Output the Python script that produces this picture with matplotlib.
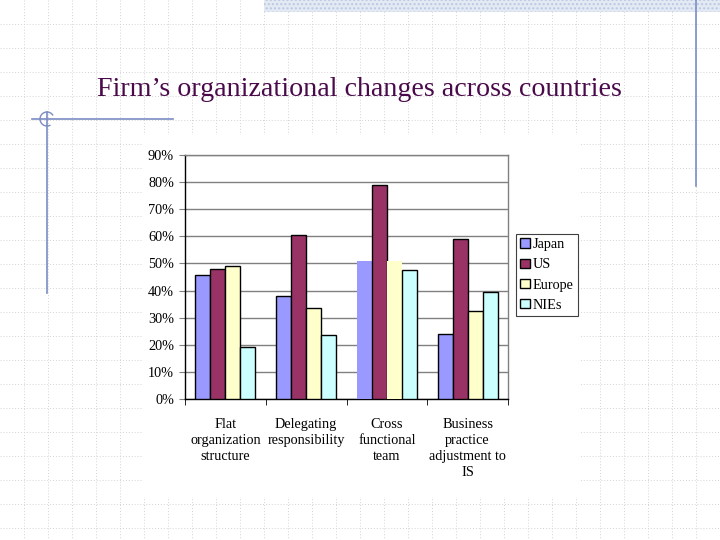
import matplotlib
matplotlib.use('Agg')
import matplotlib.pyplot as plt
from matplotlib.patches import Rectangle, Arc
import numpy as np

plt.rcParams['font.family'] = ['Liberation Serif', 'DejaVu Serif']

# data
categories = ['Flat\norganization\nstructure', 'Delegating\nresponsibility',
              'Cross\nfunctional\nteam', 'Business\npractice\nadjustment to\nIS']
series = ['Japan', 'US', 'Europe', 'NIEs']
japan = [0.456, 0.380, 0.509, 0.239]
us = [0.479, 0.604, 0.789, 0.589]
europe = [0.490, 0.335, 0.509, 0.324]
nies = [0.191, 0.236, 0.475, 0.394]
colors = ['#9999ff', '#993366', '#ffffcc', '#ccffff']

W, H = 720, 540
fig = plt.figure(figsize=(7.2, 5.4), dpi=100)

# slide background: dotted grid + decorations
bg = fig.add_axes([0, 0, 1, 1])
bg.set_xlim(0, W)
bg.set_ylim(H, 0)
bg.axis('off')
for x in range(24, W, 24):
    bg.plot([x, x], [0, H], color='#d4d4d4', lw=0.7, ls=(0, (1, 2)), zorder=0)
for y in range(24, H, 24):
    bg.plot([0, W], [y, y], color='#d4d4d4', lw=0.7, ls=(0, (1, 2)), zorder=0)
bg.add_patch(Rectangle((143, 135), 437, 362, facecolor='white', edgecolor='none', zorder=1))
bg.add_patch(Rectangle((264, 0), W - 264, 12, facecolor='#e4eaf4', edgecolor='#b9c8e2',
                       hatch='....', lw=0, zorder=1))
line_c = '#7b8cc4'
bg.plot([32, 173], [119, 119], color=line_c, lw=1.2, zorder=2)
bg.plot([47, 47], [112, 293], color=line_c, lw=1.2, zorder=2)
bg.add_patch(Arc((47, 119), 14, 14, theta1=60, theta2=330, color=line_c, lw=1, zorder=2))
bg.plot([696, 696], [0, 186], color=line_c, lw=1.2, zorder=2)
bg.text(359, 90, 'Firm\u2019s organizational changes across countries', ha='center',
        va='center', fontsize=20.2, color='#4a0a4a', zorder=3)

# chart
ax = fig.add_axes([185 / W, 1 - 399 / H, (508 - 185) / W, (399 - 155) / H])
ax.set_facecolor('white')
x = np.arange(len(categories))
w = 0.185
no_edge = {(0, 2), (2, 2)}  # (series, category) drawn without outline
for i, (vals, c) in enumerate(zip([japan, us, europe, nies], colors)):
    bars = ax.bar(x + (i - 1.5) * w, vals, w, color=c, edgecolor='black', lw=1.0,
                  label=series[i], zorder=3)
    for j, b in enumerate(bars):
        if (i, j) in no_edge:
            b.set_edgecolor('none')

ax.set_xlim(-0.5, 3.5)
ax.set_ylim(0, 0.9)
ax.set_yticks(np.arange(0, 0.91, 0.1))
ax.set_yticklabels(['%d%%' % round(v * 100) for v in np.arange(0, 0.91, 0.1)], fontsize=10.3)
ax.yaxis.grid(True, color='#808080', lw=1.0, zorder=0)
ax.set_xticks(x)
ax.set_xticklabels(categories, fontsize=10.3, linespacing=1.3)
ax.set_xticks([-0.5, 0.5, 1.5, 2.5, 3.5], minor=True)
ax.tick_params(axis='x', which='major', length=0, pad=14)
ax.tick_params(axis='x', which='minor', length=4, direction='out', color='black')
ax.tick_params(axis='y', length=4, direction='out', color='#808080', pad=4)
ax.spines['left'].set_color('black')
ax.spines['bottom'].set_color('black')
ax.spines['top'].set_color('#808080')
ax.spines['right'].set_color('#808080')
for s in ax.spines.values():
    s.set_linewidth(1.0)

leg = ax.legend(loc='upper left', bbox_to_anchor=(516 / W, 1 - 234 / H),
                bbox_transform=fig.transFigure, fontsize=10.3, frameon=True,
                fancybox=False, framealpha=1, edgecolor='#404040',
                handlelength=0.65, handleheight=0.65, handletextpad=0.2,
                borderpad=0.3, labelspacing=0.5, borderaxespad=0)
leg.get_frame().set_linewidth(0.8)

fig.savefig('out.png', dpi=100)
